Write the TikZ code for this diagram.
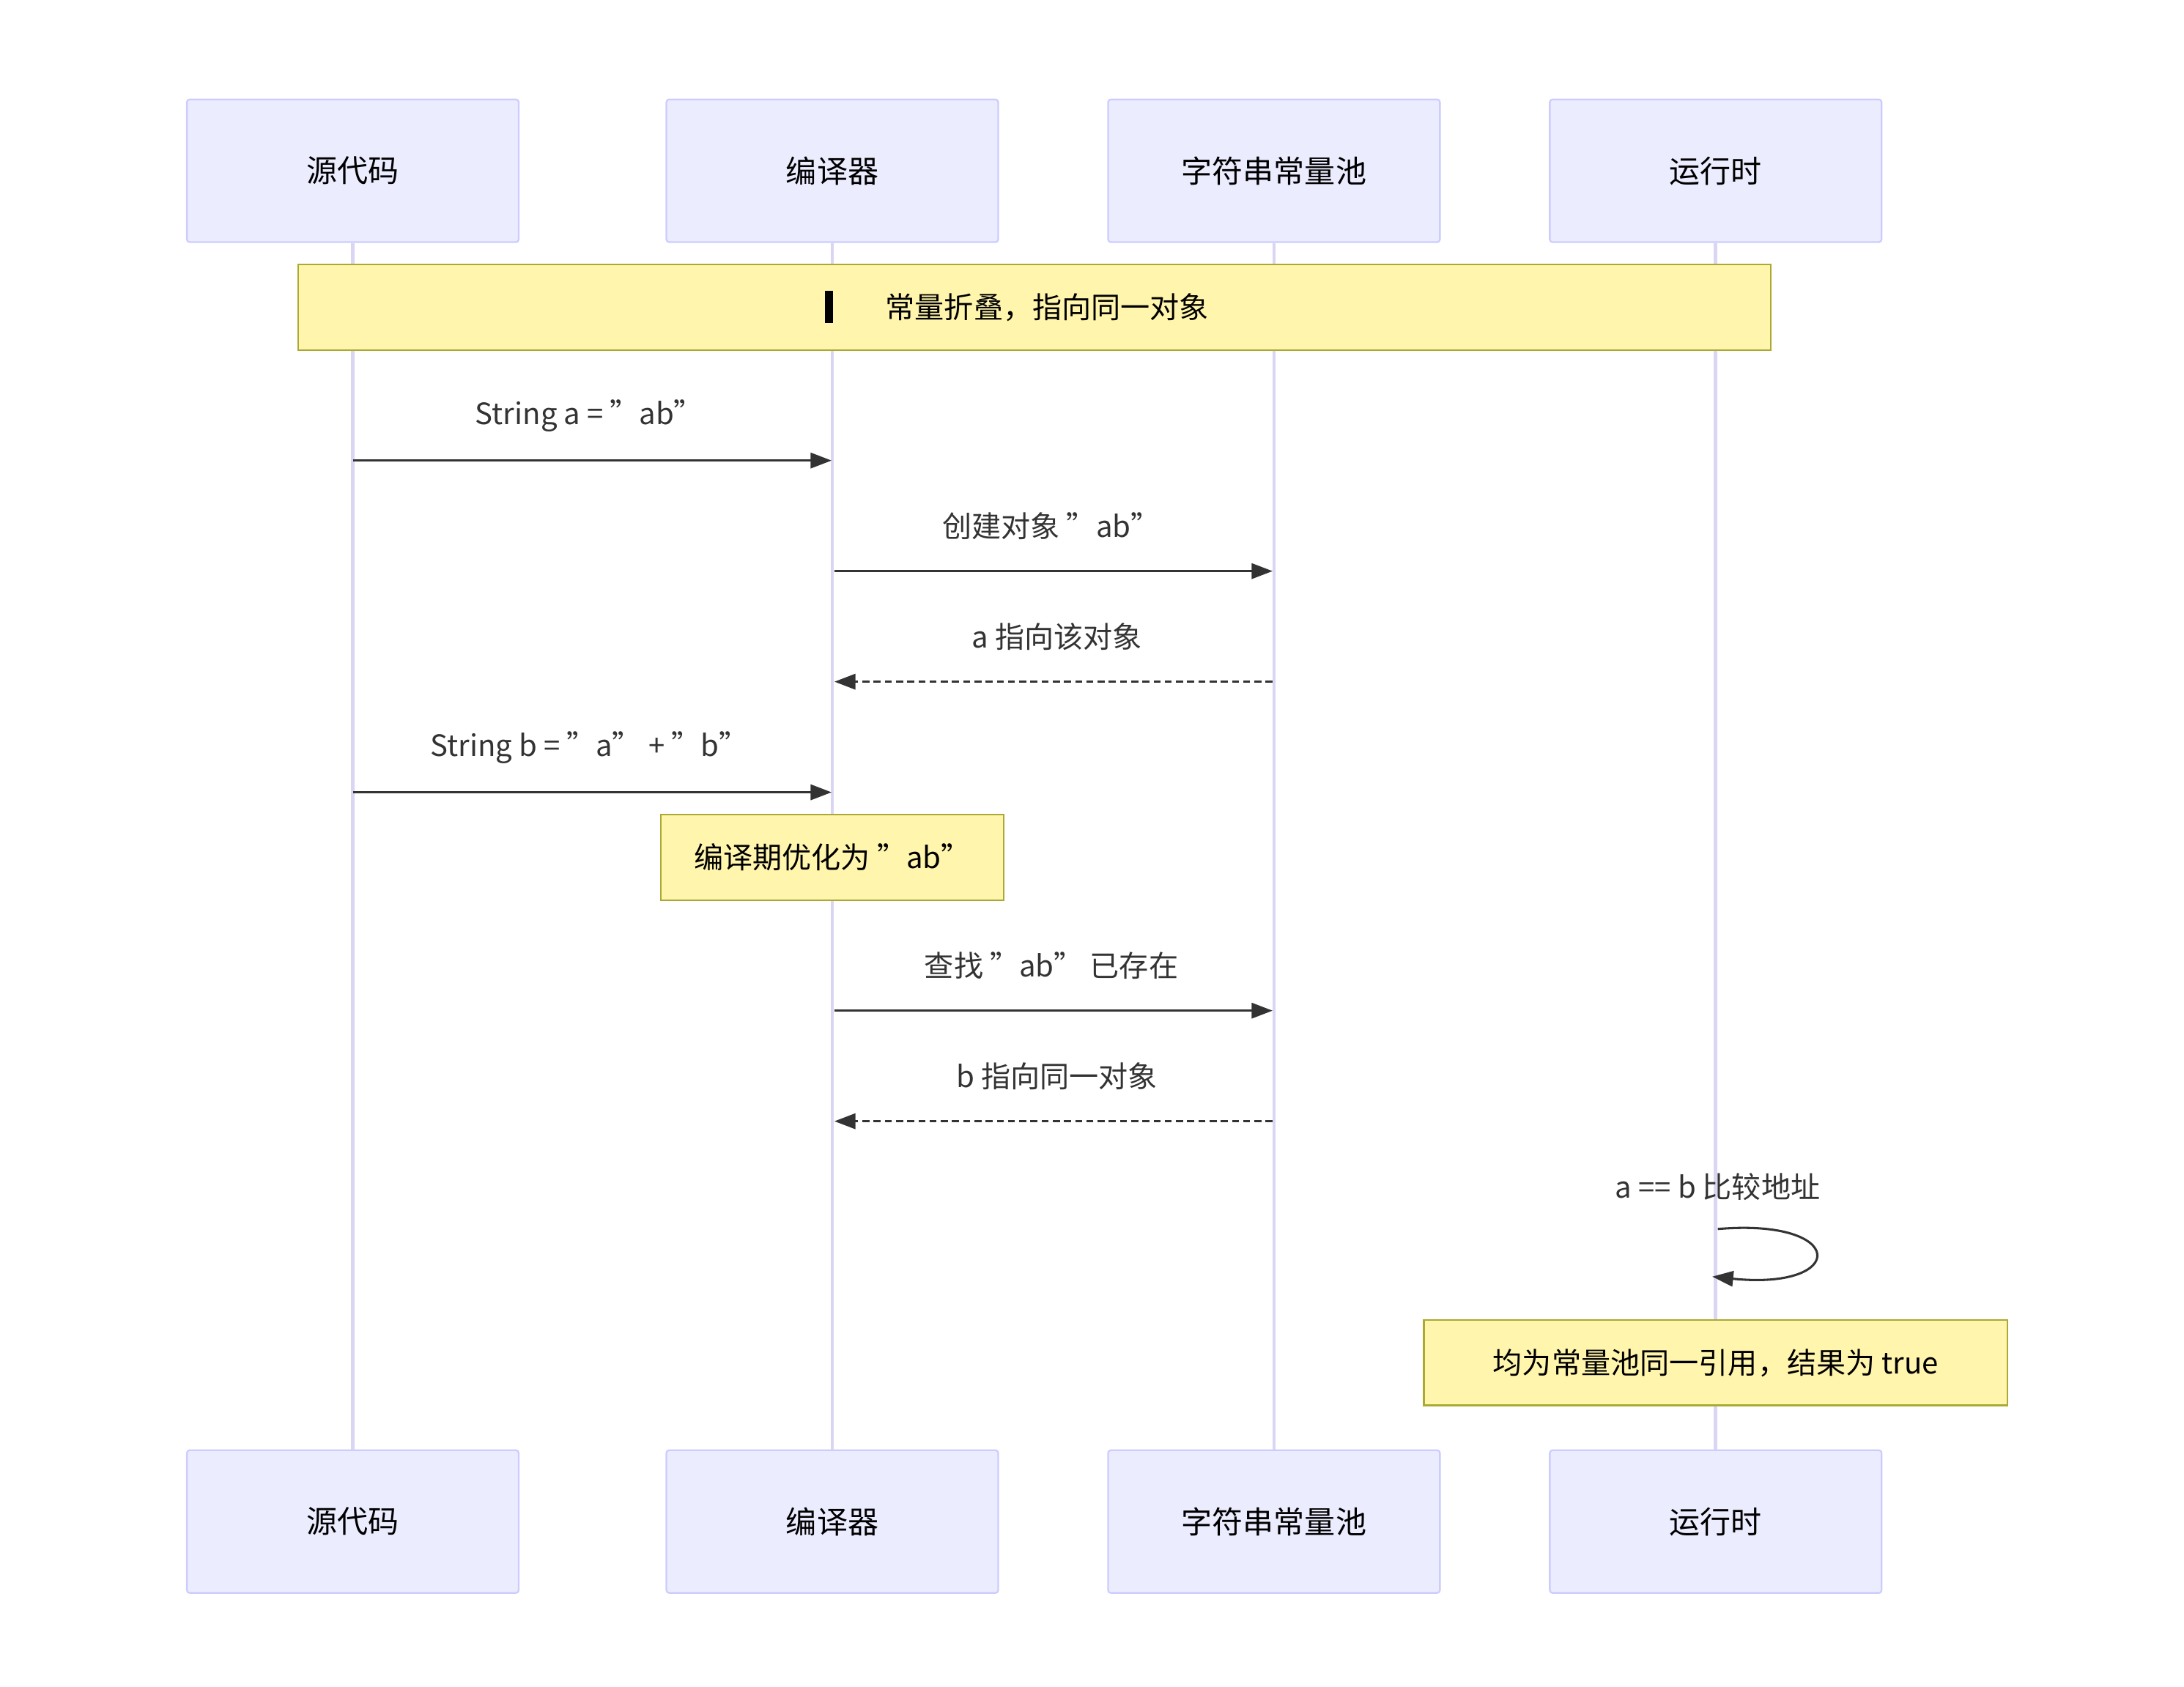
\documentclass[tikz,border=0pt]{standalone}
\usepackage{fontspec}
\setmainfont{Noto Sans CJK SC}
\usetikzlibrary{arrows.meta}
\definecolor{actfill}{HTML}{ECECFF}
\definecolor{actdraw}{HTML}{CCCCFF}
\definecolor{life}{HTML}{DAD5F2}
\definecolor{notefill}{HTML}{FFF5AD}
\definecolor{notedraw}{HTML}{AAAA33}
\definecolor{ink}{HTML}{333333}
\begin{document}
\begin{tikzpicture}[x=1pt,y=-1pt,
  actor/.style={draw=actdraw,fill=actfill,line width=1.2pt,rounded corners=2pt,minimum width=237pt,minimum height=102pt,font=\fontsize{22}{26}\selectfont,text=black},
  note/.style={draw=notedraw,fill=notefill,line width=1.2pt,minimum height=61pt,font=\fontsize{21}{25}\selectfont,text=black},
  msg/.style={ink,line width=1.6pt,-{Triangle[length=15pt,width=11pt]}},
  rmsg/.style={msg,dash pattern=on 5pt off 3pt},
  lbl/.style={font=\fontsize{21}{25}\selectfont,text=ink},
  lifeline/.style={life,line width=2.5pt}]
\useasboundingbox (0,0) rectangle (1560,1205);
\foreach \n/\x/\t in {A/252/源代码,B/594.5/编译器,C/910/字符串常量池,D/1225.5/运行时}{
  \node[actor] (\n t) at (\x,122) {\t};
  \node[actor] (\n b) at (\x,1087) {\t};
  \draw[lifeline] (\n t.south) -- (\n b.north);
}
\node[note,minimum width=1052pt] (n1) at (739,219.5) {\hspace{18pt}常量折叠，指向同一对象};
\fill[black] (589,208) rectangle (595,231);
\coordinate (a1) at (252,329); \coordinate (b1) at (594,329);
\draw[msg] (a1) -- (b1);
\node[lbl] (l1) at (421,297) {String a = "ab"};
\coordinate (b2) at (596,408); \coordinate (c2) at (909,408);
\draw[msg] (b2) -- (c2);
\node[lbl] (l2) at (751,376) {创建对象 "ab"};
\coordinate (c3) at (909,487); \coordinate (b3) at (596,487);
\draw[rmsg] (c3) -- (b3);
\node[lbl] (l3) at (755,455) {a 指向该对象};
\coordinate (a4) at (252,566); \coordinate (b4) at (594,566);
\draw[msg] (a4) -- (b4);
\node[lbl] (l4) at (421,534) {String b = "a" + "b"};
\node[note,minimum width=245pt] (n2) at (594.5,612.5) {编译期优化为 "ab"};
\coordinate (b5) at (596,722); \coordinate (c5) at (909,722);
\draw[msg] (b5) -- (c5);
\node[lbl] (l5) at (751,690) {查找 "ab" 已存在};
\coordinate (c6) at (909,801); \coordinate (b6) at (596,801);
\draw[rmsg] (c6) -- (b6);
\node[lbl] (l6) at (755,769) {b 指向同一对象};
\coordinate (d7) at (1227,878); \coordinate (d8) at (1223,912);
\draw[msg] (d7) .. controls (1320,870) and (1320,922) .. (d8);
\node[lbl] (l7) at (1227,848) {a == b 比较地址};
\node[note,minimum width=417pt] (n3) at (1225.5,973.5) {均为常量池同一引用，结果为 true};
\end{tikzpicture}
\end{document}
